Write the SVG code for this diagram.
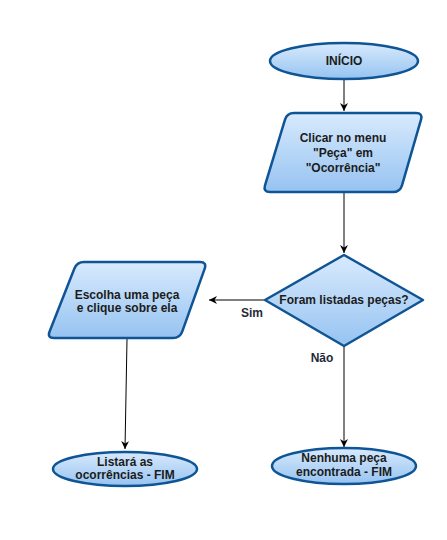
<svg xmlns="http://www.w3.org/2000/svg" width="447" height="540" viewBox="0 0 447 540">
<defs>
<linearGradient id="g" x1="0" y1="0" x2="0" y2="1">
<stop offset="0" stop-color="#d8eafd"/>
<stop offset="1" stop-color="#96c3f1"/>
</linearGradient>
<marker id="arr" markerWidth="10" markerHeight="10" refX="8" refY="4" orient="auto" markerUnits="userSpaceOnUse">
<path d="M0,0 L8,4 L0,8 L2.5,4 Z" fill="#000"/>
</marker>
<style>
.shape{fill:url(#g);stroke:#0f5596;stroke-width:2.5;stroke-linejoin:round}
.t{font-family:"Liberation Sans",Arial,sans-serif;font-size:12px;font-weight:bold;fill:#1c1c1c;text-anchor:middle}
.lbl{font-family:"Liberation Sans",Arial,sans-serif;font-size:12px;font-weight:bold;fill:#1f2a38;text-anchor:middle}
.c{fill:none;stroke:#000;stroke-width:1}
</style>
</defs>
<rect width="447" height="540" fill="#fff"/>
<g id="connectors">
<line class="c" x1="344" y1="80" x2="344" y2="111" marker-end="url(#arr)"/>
<line class="c" x1="344" y1="193" x2="344" y2="253" marker-end="url(#arr)"/>
<line class="c" x1="264" y1="300" x2="209" y2="300" marker-end="url(#arr)"/>
<line class="c" x1="127" y1="339" x2="125" y2="449" marker-end="url(#arr)"/>
<line class="c" x1="344" y1="347" x2="344" y2="447" marker-end="url(#arr)"/>
<text class="lbl" x="252" y="317">Sim</text>
<text class="lbl" x="322" y="362">Não</text>
</g>
<g id="inicio">
<ellipse class="shape" cx="344" cy="61" rx="74" ry="18"/>
<text class="t" x="344" y="65">INÍCIO</text>
</g>
<g id="clicar">
<path class="shape" d="M 294,113 L 416,113 Q 423,113 421,119.7 L 402,185.3 Q 400,192 393,192 L 270,192 Q 263,192 265,185.3 L 285,119.7 Q 287,113 294,113 Z"/>
<text class="t" x="343" y="142">Clicar no menu</text>
<text class="t" x="343" y="157">"Peça" em</text>
<text class="t" x="343" y="172">"Ocorrência"</text>
</g>
<g id="decisao">
<path class="shape" d="M 344,255 L 423,300 L 344,346 L 265,300 Z"/>
<text class="t" x="344" y="304">Foram listadas peças?</text>
</g>
<g id="escolha">
<path class="shape" d="M 84,262 L 200,262 Q 207,262 204.7,268.6 L 182.3,331.4 Q 180,338 173,338 L 54,338 Q 47,338 49.6,331.5 L 74.4,268.5 Q 77,262 84,262 Z"/>
<text class="t" x="127" y="299">Escolha uma peça</text>
<text class="t" x="127" y="312">e clique sobre ela</text>
</g>
<g id="listara">
<ellipse class="shape" cx="125" cy="469" rx="72" ry="17"/>
<text class="t" x="125" y="466">Listará as</text>
<text class="t" x="125" y="479">ocorrências - FIM</text>
</g>
<g id="nenhuma">
<ellipse class="shape" cx="344" cy="466" rx="72" ry="18"/>
<text class="t" x="344" y="462">Nenhuma peça</text>
<text class="t" x="344" y="476">encontrada - FIM</text>
</g>
</svg>
